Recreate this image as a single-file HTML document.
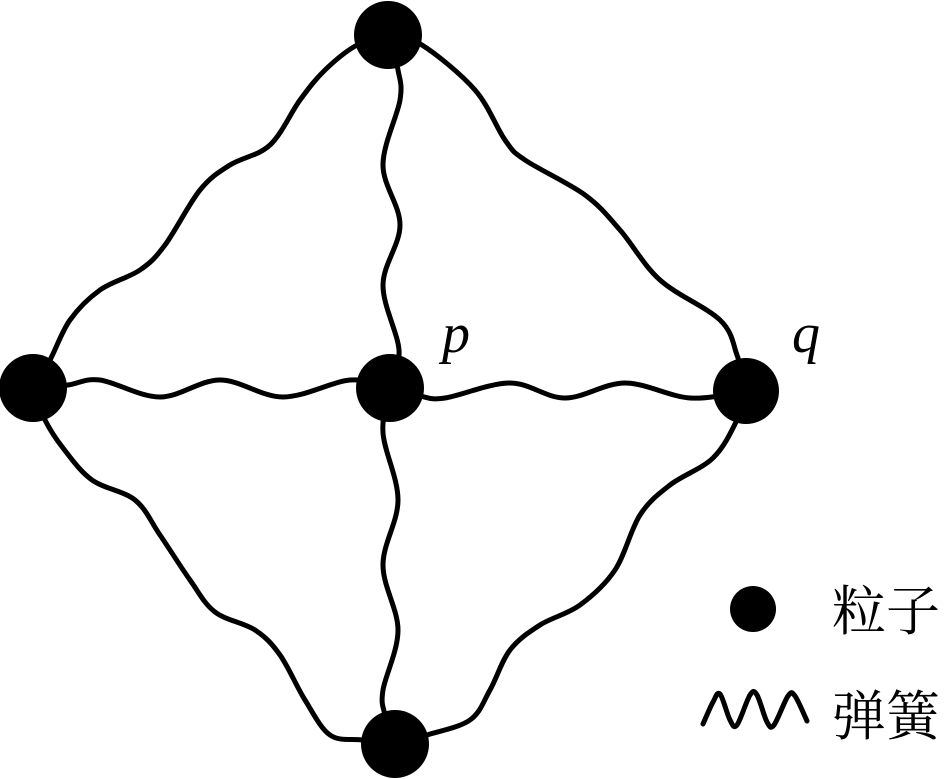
<!DOCTYPE html>
<html><head><meta charset="utf-8"><style>
html,body{margin:0;padding:0;background:#fff;width:948px;height:779px;overflow:hidden}
svg{display:block}
</style></head><body>
<svg id="s" width="948" height="779" viewBox="0 0 948 779" xmlns="http://www.w3.org/2000/svg">
<g id="lines" fill="none" stroke="#000" stroke-width="5" stroke-linecap="round" stroke-linejoin="round"></g>
<g fill="#000">
<circle cx="388" cy="35" r="34"/>
<circle cx="33" cy="388" r="34"/>
<circle cx="390" cy="388" r="34"/>
<circle cx="746" cy="391" r="33"/>
<circle cx="395" cy="744" r="34"/>
<circle cx="753" cy="609" r="23"/>
</g>
<text x="442" y="352" font-family="'Liberation Serif',serif" font-style="italic" font-size="56">p</text>
<text x="792" y="352" font-family="'Liberation Serif',serif" font-style="italic" font-size="56">q</text>
<text x="832" y="630" font-family="'Liberation Serif','Noto Serif CJK SC',serif" font-size="54">粒子</text>
<text x="832" y="735" font-family="'Liberation Serif','Noto Serif CJK SC',serif" font-size="54">弹簧</text>
</svg>
<script>
function cr(p){var d='M'+p[0][0]+','+p[0][1];for(var i=0;i<p.length-1;i++){var p0=p[i-1]||p[i],p1=p[i],p2=p[i+1],p3=p[i+2]||p2;
d+=' C'+(p1[0]+(p2[0]-p0[0])/6)+','+(p1[1]+(p2[1]-p0[1])/6)+' '+(p2[0]-(p3[0]-p1[0])/6)+','+(p2[1]-(p3[1]-p1[1])/6)+' '+p2[0]+','+p2[1];}return d;}
var L=[
[[388,35],[357,45],[325,70],[300,100],[270,145],[230,165],[200,190],[165,245],[140,270],[100,290],[70,320],[50,360],[33,388]],
[[388,35],[422,45],[475,90],[505,140],[525,160],[585,195],[620,230],[660,280],[720,320],[737,355],[746,391]],
[[33,388],[45,420],[63,448],[92,480],[135,500],[160,535],[190,580],[215,612],[255,630],[280,655],[305,700],[330,735],[362,740],[395,744]],
[[746,391],[737,420],[713,458],[670,485],[640,515],[615,570],[580,605],[540,625],[510,650],[490,690],[470,720],[427,735],[395,744]],
[[388,35],[398,70],[400,100],[383,165],[400,225],[383,285],[399,350],[390,388]],
[[390,388],[383,433],[398,500],[383,565],[398,630],[383,690],[385,715],[395,744]],
[[33,388],[68,385],[100,380],[160,397],[220,380],[283,397],[350,380],[390,388]],
[[390,388],[420,396],[445,398],[510,383],[565,398],[625,383],[690,398],[746,391]],
[[703,724],[713,702],[720,694],[730,720],[737,725],[750,695],[757,695],[767,722],[774,725],[788,696],[795,696],[807,721]]
];
var g=document.getElementById('lines');
L.forEach(function(p){var e=document.createElementNS('http://www.w3.org/2000/svg','path');e.setAttribute('d',cr(p));g.appendChild(e);});
</script>
</body></html>
